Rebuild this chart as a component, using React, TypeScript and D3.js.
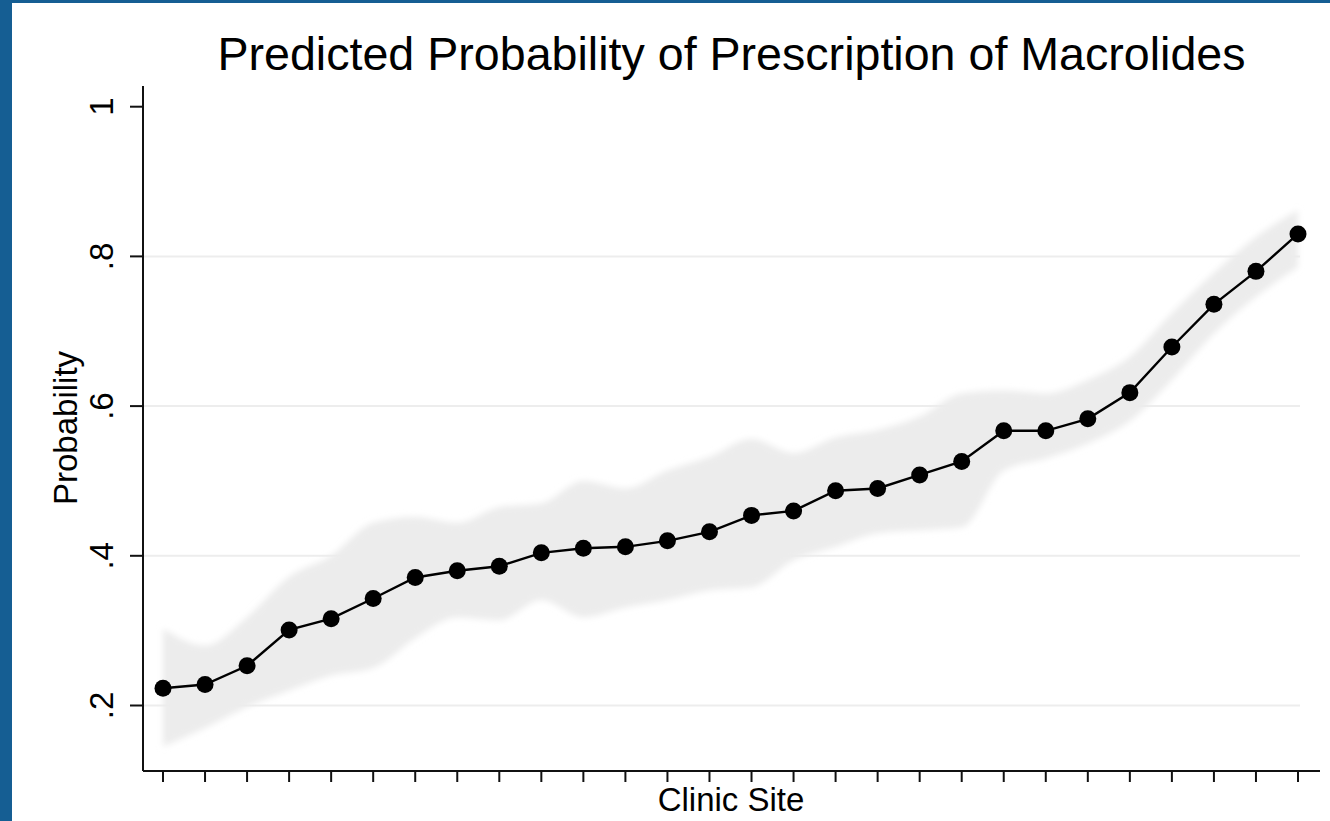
import React from "react";
import * as d3 from "d3";

// Predicted probability per clinic site (sorted), with confidence band
const sites: number[] = Array.from({ length: 28 }, (_, i) => i + 1);
const predicted: number[] = [
  0.223, 0.228, 0.253, 0.301, 0.316, 0.343, 0.371, 0.380, 0.386, 0.404,
  0.410, 0.412, 0.420, 0.432, 0.454, 0.460, 0.487, 0.490, 0.508, 0.526,
  0.567, 0.567, 0.583, 0.618, 0.679, 0.736, 0.780, 0.830,
];
const upper: number[] = [
  0.303, 0.280, 0.318, 0.372, 0.400, 0.444, 0.452, 0.444, 0.465, 0.470,
  0.500, 0.490, 0.514, 0.532, 0.556, 0.537, 0.558, 0.568, 0.586, 0.617,
  0.621, 0.617, 0.635, 0.666, 0.724, 0.778, 0.826, 0.862,
];
const lower: number[] = [
  0.145, 0.170, 0.198, 0.220, 0.240, 0.250, 0.290, 0.318, 0.314, 0.341,
  0.318, 0.331, 0.341, 0.354, 0.358, 0.394, 0.412, 0.430, 0.434, 0.438,
  0.514, 0.530, 0.550, 0.580, 0.635, 0.697, 0.746, 0.786,
];
const yTicks: number[] = [0.2, 0.4, 0.6, 0.8, 1];
const yTickLabels: string[] = [".2", ".4", ".6", ".8", "1"];

const W = 1330;
const H = 821;
const FONT = "'Liberation Sans', Arial, Helvetica, sans-serif";

export default function App() {
  const x = d3.scaleLinear().domain([1, 28]).range([163, 1298]);
  const y = d3.scaleLinear().domain([0.2, 1]).range([705.5, 106.7]);

  const axisLeft = 143;
  const axisBottom = 771;
  const axisTop = 86;
  const axisRight = 1320;

  const band = d3
    .area<number>()
    .x((_, i) => x(sites[i]))
    .y0((_, i) => y(lower[i]))
    .y1((_, i) => y(upper[i]))
    .curve(d3.curveMonotoneX)(predicted) as string;

  const line = d3
    .line<number>()
    .x((_, i) => x(sites[i]))
    .y((d) => y(d))(predicted) as string;

  return (
    <svg
      width={W}
      height={H}
      style={{ position: "absolute", left: 0, top: 0, display: "block" }}
    >
      <defs>
        <filter id="soft" x="-5%" y="-10%" width="110%" height="120%">
          <feGaussianBlur stdDeviation="3" />
        </filter>
      </defs>
      <rect x={0} y={0} width={W} height={H} fill="#155e93" />
      <rect x={12} y={3} width={W - 12} height={H - 3} fill="#ffffff" />

      {/* title */}
      <text
        x={731.5}
        y={70}
        textAnchor="middle"
        fontFamily={FONT}
        fontSize={46.6}
        fill="#000"
      >
        Predicted Probability of Prescription of Macrolides
      </text>

      {/* gridlines */}
      {yTicks
        .filter((t) => t < 1)
        .map((t) => (
          <line
            key={`g${t}`}
            x1={axisLeft}
            x2={1300}
            y1={y(t)}
            y2={y(t)}
            stroke="#ededed"
            strokeWidth={2}
          />
        ))}

      {/* confidence band */}
      <path d={band} fill="#ececec" filter="url(#soft)" />

      {/* prediction line and markers */}
      <path d={line} fill="none" stroke="#000" strokeWidth={2.4} />
      {predicted.map((v, i) => (
        <circle key={`p${i}`} cx={x(sites[i])} cy={y(v)} r={8.5} fill="#000" />
      ))}

      {/* y axis */}
      <line x1={axisLeft} x2={axisLeft} y1={axisTop} y2={axisBottom} stroke="#111" strokeWidth={2} />
      {yTicks.map((t, i) => (
        <g key={`yt${t}`}>
          <line x1={130} x2={axisLeft} y1={y(t)} y2={y(t)} stroke="#111" strokeWidth={2} />
          <text
            transform={`translate(113,${y(t)}) rotate(-90)`}
            textAnchor="middle"
            fontFamily={FONT}
            fontSize={33}
            fill="#000"
          >
            {yTickLabels[i]}
          </text>
        </g>
      ))}
      <text
        transform={`translate(77,428) rotate(-90)`}
        textAnchor="middle"
        fontFamily={FONT}
        fontSize={33}
        fill="#000"
      >
        Probability
      </text>

      {/* x axis */}
      <line x1={axisLeft} x2={axisRight} y1={axisBottom} y2={axisBottom} stroke="#111" strokeWidth={2} />
      {sites.map((s) => (
        <line
          key={`xt${s}`}
          x1={x(s)}
          x2={x(s)}
          y1={axisBottom}
          y2={782}
          stroke="#111"
          strokeWidth={2}
        />
      ))}
      <text
        x={731}
        y={811}
        textAnchor="middle"
        fontFamily={FONT}
        fontSize={33}
        fill="#000"
      >
        Clinic Site
      </text>
    </svg>
  );
}
